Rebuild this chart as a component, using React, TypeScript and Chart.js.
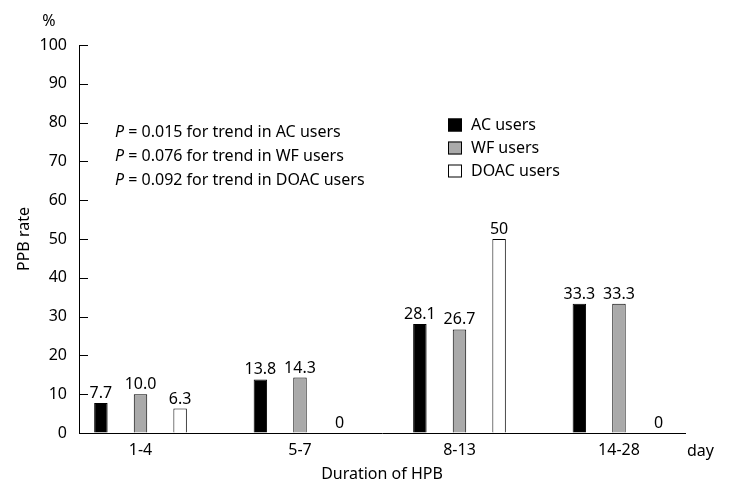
import React, { useEffect, useRef } from 'react';
import { Chart, registerables } from 'chart.js';

Chart.register(...registerables);

const categories = ['1-4', '5-7', '8-13', '14-28'];
const seriesNames = ['AC users', 'WF users', 'DOAC users'];
const acValues = [7.7, 13.8, 28.1, 33.3];
const wfValues = [10.0, 14.3, 26.7, 33.3];
const doacValues = [6.3, 0, 50, 0];
const acLabels = ['7.7', '13.8', '28.1', '33.3'];
const wfLabels = ['10.0', '14.3', '26.7', '33.3'];
const doacLabels = ['6.3', '0', '50', '0'];
const pValues = ['0.015', '0.076', '0.092'];
const pGroups = ['AC', 'WF', 'DOAC'];
const yMin = 0;
const yMax = 100;
const yStep = 10;

const FONT = "'Noto Sans', 'DejaVu Sans', sans-serif";
const FS = 16;
const TXT = '#000';

const customPlugin = {
  id: 'customDecor',
  afterDatasetsDraw(chart: any) {
    const ctx = chart.ctx;
    ctx.save();
    ctx.font = `${FS}px ${FONT}`;
    ctx.fillStyle = TXT;
    ctx.textAlign = 'center';
    ctx.textBaseline = 'alphabetic';
    chart.data.datasets.forEach((ds: any, i: number) => {
      const meta = chart.getDatasetMeta(i);
      meta.data.forEach((el: any, j: number) => {
        ctx.fillText(ds.valueLabels[j], el.x, el.y - 5);
      });
    });
    ctx.restore();
  },
  afterDraw(chart: any) {
    const { ctx, chartArea, scales } = chart;
    const y = scales.y;
    ctx.save();
    // inward y tick marks
    ctx.strokeStyle = '#000';
    ctx.lineWidth = 1;
    y.ticks.forEach((t: any) => {
      const py = Math.round(y.getPixelForValue(t.value)) + 0.5;
      ctx.beginPath();
      ctx.moveTo(chartArea.left, py);
      ctx.lineTo(chartArea.left + 9, py);
      ctx.stroke();
    });

    ctx.font = `${FS}px ${FONT}`;
    ctx.fillStyle = TXT;
    // unit labels
    ctx.textAlign = 'center';
    ctx.textBaseline = 'middle';
    ctx.fillText('%', chartArea.left - 30, chartArea.top - 24);
    ctx.textAlign = 'left';
    ctx.fillText('day', chartArea.right + 2, chartArea.bottom + 18);

    // p-value annotations
    const ax = chartArea.left + 36;
    pValues.forEach((p, i) => {
      const ly = chartArea.top + 87 + i * 24;
      ctx.font = `italic ${FS}px ${FONT}`;
      ctx.fillText('P', ax, ly);
      const w = ctx.measureText('P').width;
      ctx.font = `${FS}px ${FONT}`;
      ctx.fillText(` = ${p} for trend in ${pGroups[i]} users`, ax + w, ly);
    });

    // legend
    const lx = chartArea.left + 369;
    chart.data.datasets.forEach((ds: any, i: number) => {
      const cy = chartArea.top + 80 + i * 23;
      ctx.fillStyle = ds.backgroundColor;
      ctx.fillRect(lx, cy - 6.5, 14, 13);
      ctx.strokeStyle = '#000';
      ctx.lineWidth = 1;
      ctx.strokeRect(lx + 0.5, cy - 6, 13, 12);
      ctx.fillStyle = TXT;
      ctx.textAlign = 'left';
      ctx.textBaseline = 'middle';
      ctx.fillText(ds.label, lx + 23, cy);
    });
    ctx.restore();
  },
};

export default function App() {
  const ref = useRef<HTMLCanvasElement | null>(null);

  useEffect(() => {
    if (!ref.current) return;
    const mk = (vals: number[]) => vals.map((v, i) => ({ x: i, y: v }));
    const chart = new Chart(ref.current, {
      type: 'bar',
      data: {
        datasets: [
          {
            label: seriesNames[0],
            data: mk(acValues),
            backgroundColor: '#000000',
            borderColor: '#000000',
            borderWidth: 1,
            valueLabels: acLabels,
          } as any,
          {
            label: seriesNames[1],
            data: mk(wfValues),
            backgroundColor: '#aaaaaa',
            borderColor: '#000000',
            borderWidth: 1,
            valueLabels: wfLabels,
          } as any,
          {
            label: seriesNames[2],
            data: mk(doacValues),
            backgroundColor: '#ffffff',
            borderColor: '#000000',
            borderWidth: 1,
            valueLabels: doacLabels,
          } as any,
        ],
      },
      options: {
        responsive: false,
        animation: false,
        categoryPercentage: 0.745,
        barPercentage: 0.34,
        layout: { padding: { top: 45, right: 46, left: 0, bottom: 0 } },
        plugins: {
          legend: { display: false },
          tooltip: { enabled: false },
        },
        scales: {
          x: {
            type: 'linear',
            min: -0.3856,
            max: 3.414,
            offset: false,
            grid: { display: false, drawTicks: false },
            border: { display: true, color: '#000', width: 1 },
            afterBuildTicks: (scale: any) => {
              scale.ticks = categories.map((_, i) => ({ value: i }));
            },
            afterFit: (scale: any) => {
              scale.height = 65;
            },
            ticks: {
              autoSkip: false,
              maxRotation: 0,
              padding: 8,
              color: TXT,
              font: { family: FONT, size: FS },
              callback: (v: any) => categories[Math.round(Number(v))] ?? '',
            },
            title: {
              display: true,
              text: 'Duration of HPB',
              color: TXT,
              font: { family: FONT, size: FS, lineHeight: 1.2 },
              padding: { top: 0, bottom: 14 },
            },
          },
          y: {
            min: yMin,
            max: yMax,
            grid: { display: true, drawOnChartArea: false, drawTicks: false },
            border: { display: true, color: '#000', width: 1 },
            afterFit: (scale: any) => {
              scale.width = 79;
            },
            ticks: {
              stepSize: yStep,
              padding: 12,
              color: TXT,
              font: { family: FONT, size: FS },
            },
            title: {
              display: true,
              text: 'PPB rate',
              color: TXT,
              font: { family: FONT, size: FS, lineHeight: 1.2 },
              padding: { top: 15, bottom: 0 },
            },
          },
        },
      } as any,
      plugins: [customPlugin],
    });
    return () => chart.destroy();
  }, []);

  return (
    <div style={{ position: 'absolute', left: 0, top: 0, width: 731, height: 498, background: '#fff' }}>
      <canvas ref={ref} width={731} height={498} style={{ display: 'block' }} />
    </div>
  );
}
